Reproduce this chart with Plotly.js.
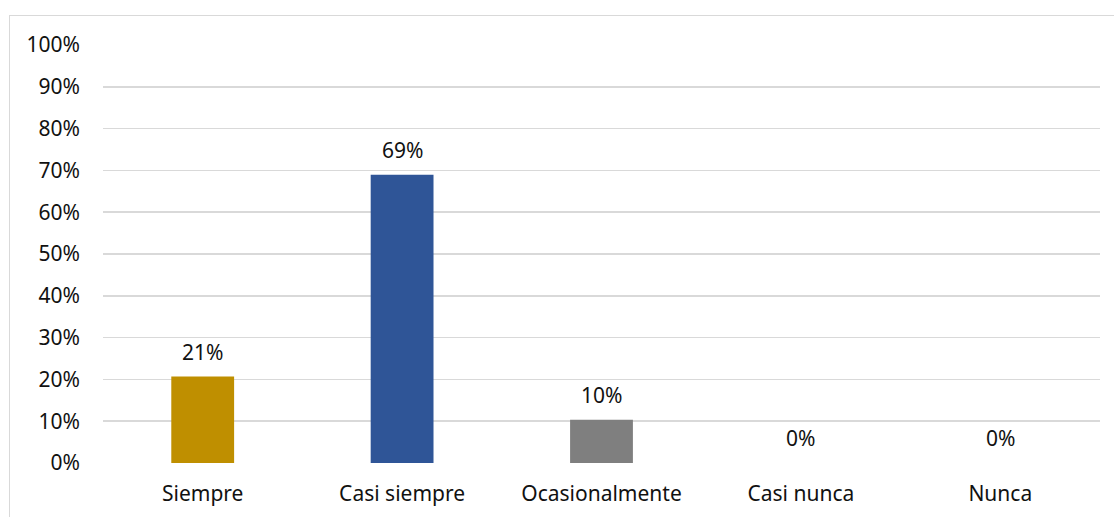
<!DOCTYPE html>
<html>
<head>
<meta charset="utf-8">
<script src="https://cdn.plot.ly/plotly-3.0.1.min.js"></script>
<style>
html,body{margin:0;padding:0;background:#fff;}
#wrap{position:relative;width:1114px;height:517px;overflow:hidden;}
#frame{position:absolute;left:9px;top:15px;width:1120px;height:520px;border:1.5px solid #D9D9D9;box-sizing:border-box;pointer-events:none;z-index:5;}
#chart{position:absolute;left:0;top:0;width:1114px;height:517px;}
</style>
</head>
<body>
<div id="wrap">
<div id="chart"></div>
<div id="frame"></div>
</div>
<script>
const categories = ["Siempre", "Casi siempre", "Ocasionalmente", "Casi nunca", "Nunca"];
const values = [0.2069, 0.6897, 0.1034, 0, 0];
const valueLabels = ["21%", "69%", "10%", "0%", "0%"];
const barColors = ["#BF8F00", "#2F5597", "#7F7F7F", "#4472C4", "#4472C4"];
const yTickVals = [0, 0.1, 0.2, 0.3, 0.4, 0.5, 0.6, 0.7, 0.8, 0.9, 1.0];
const yTickText = ["0%", "10%", "20%", "30%", "40%", "50%", "60%", "70%", "80%", "90%", "100%"];

const font = {family: "'Noto Sans', sans-serif", size: 21, color: "#111111"};

const trace = {
  type: "bar",
  x: categories,
  y: values,
  marker: {color: barColors},
  width: 0.315,
  hoverinfo: "skip"
};

const annotations = categories.map((c, i) => ({
  x: c, y: values[i], xref: "x", yref: "y",
  text: valueLabels[i], showarrow: false,
  yanchor: "bottom", yshift: 9,
  font: font
}));

const layout = {
  width: 1114, height: 517,
  margin: {l: 103, r: 14, t: 45, b: 54},
  paper_bgcolor: "rgba(0,0,0,0)",
  plot_bgcolor: "rgba(0,0,0,0)",
  showlegend: false,
  font: font,
  xaxis: {
    type: "category",
    showgrid: false, zeroline: false, showline: false,
    ticks: "", ticklabelstandoff: 16,
    tickfont: font, fixedrange: true
  },
  yaxis: {
    range: [0, 1],
    tickvals: yTickVals, ticktext: yTickText,
    showgrid: true, gridcolor: "#D9D9D9", gridwidth: 1.5,
    zeroline: false, showline: false,
    ticks: "", ticklabelstandoff: 22,
    tickfont: font, fixedrange: true
  },
  annotations: annotations
};

Plotly.newPlot("chart", [trace], layout, {staticPlot: true, displayModeBar: false});
</script>
</body>
</html>
